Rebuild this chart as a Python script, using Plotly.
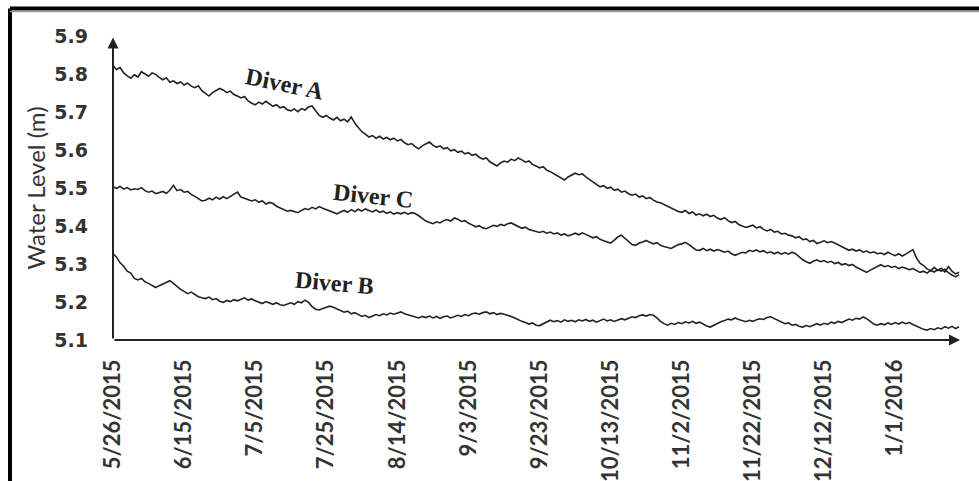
import pandas as pd
import plotly.graph_objects as go

# Daily water level readings (m) starting 5/26/2015
start_date = "2015-05-26"

diver_a = [
    5.822, 5.812, 5.817, 5.803, 5.795, 5.789, 5.798, 5.792, 5.806, 5.801,
    5.794, 5.803, 5.799, 5.791, 5.785, 5.790, 5.778, 5.782, 5.775, 5.779,
    5.771, 5.776, 5.768, 5.764, 5.769, 5.756, 5.748, 5.742, 5.751, 5.757,
    5.762, 5.758, 5.751, 5.755, 5.746, 5.742, 5.737, 5.741, 5.729, 5.723,
    5.719, 5.726, 5.721, 5.728, 5.722, 5.715, 5.719, 5.711, 5.714, 5.706,
    5.703, 5.708, 5.701, 5.709, 5.705, 5.713, 5.716, 5.702, 5.691, 5.686,
    5.691, 5.684, 5.679, 5.686, 5.677, 5.681, 5.674, 5.687, 5.671, 5.659,
    5.648, 5.642, 5.634, 5.638, 5.631, 5.636, 5.629, 5.633, 5.627, 5.631,
    5.624, 5.628, 5.619, 5.614, 5.617, 5.609, 5.603, 5.611, 5.616, 5.621,
    5.613, 5.607, 5.611, 5.603, 5.606, 5.598, 5.601, 5.594, 5.597, 5.590,
    5.593, 5.586, 5.589, 5.581, 5.576, 5.579, 5.569, 5.563, 5.558, 5.566,
    5.571, 5.568, 5.576, 5.572, 5.579, 5.574, 5.568, 5.571, 5.562, 5.558,
    5.553, 5.556, 5.547, 5.543, 5.538, 5.532, 5.526, 5.521, 5.529, 5.534,
    5.539, 5.535, 5.537, 5.529, 5.522, 5.516, 5.509, 5.503, 5.506, 5.499,
    5.502, 5.494, 5.497, 5.489, 5.492, 5.485, 5.481, 5.484, 5.476, 5.479,
    5.472, 5.475, 5.468, 5.463, 5.461, 5.456, 5.451, 5.446, 5.442, 5.438,
    5.436, 5.441, 5.433, 5.437, 5.429, 5.432, 5.427, 5.431, 5.425, 5.428,
    5.421, 5.417, 5.422, 5.414, 5.409, 5.412, 5.404, 5.401, 5.396, 5.399,
    5.402, 5.395, 5.398, 5.391, 5.387, 5.391, 5.384, 5.386, 5.379, 5.381,
    5.376, 5.374, 5.369, 5.372, 5.364, 5.366, 5.359, 5.362, 5.354, 5.357,
    5.361, 5.356, 5.359, 5.355, 5.351, 5.346, 5.341, 5.336, 5.339, 5.334,
    5.337, 5.331, 5.334, 5.329, 5.332, 5.327, 5.329, 5.325, 5.331, 5.326,
    5.322, 5.327, 5.321, 5.326, 5.331, 5.338, 5.316, 5.302, 5.296, 5.287,
    5.282, 5.291, 5.283, 5.289, 5.279, 5.293, 5.281, 5.274, 5.278,
]

diver_c = [
    5.503, 5.499, 5.504, 5.497, 5.501, 5.495, 5.498, 5.496, 5.501, 5.493,
    5.489, 5.492, 5.485, 5.487, 5.491, 5.486, 5.494, 5.507, 5.493, 5.496,
    5.489, 5.491, 5.483, 5.478, 5.472, 5.466, 5.468, 5.473, 5.469, 5.476,
    5.471, 5.477, 5.472, 5.478, 5.483, 5.489, 5.476, 5.472, 5.468, 5.466,
    5.469, 5.463, 5.466, 5.458, 5.462, 5.459, 5.452, 5.447, 5.443, 5.439,
    5.441, 5.437, 5.435, 5.441, 5.446, 5.443, 5.449, 5.445, 5.451, 5.447,
    5.443, 5.438, 5.434, 5.432, 5.437, 5.441, 5.436, 5.443, 5.438, 5.444,
    5.439, 5.445, 5.441, 5.437, 5.442, 5.436, 5.439, 5.433, 5.437, 5.431,
    5.435, 5.432, 5.436, 5.431, 5.435, 5.433, 5.427, 5.419, 5.413, 5.409,
    5.406, 5.411, 5.408, 5.414, 5.417, 5.413, 5.421, 5.418, 5.412, 5.414,
    5.407, 5.403, 5.398, 5.401, 5.395, 5.393, 5.397, 5.402, 5.399, 5.404,
    5.401, 5.406, 5.408, 5.403, 5.398, 5.394, 5.397, 5.391, 5.388, 5.385,
    5.383, 5.386, 5.381, 5.384, 5.379, 5.382, 5.376, 5.379, 5.374, 5.377,
    5.381, 5.377, 5.382, 5.378, 5.373, 5.369, 5.372, 5.365, 5.361, 5.358,
    5.355, 5.363, 5.371, 5.376, 5.368, 5.359, 5.351, 5.349, 5.355, 5.358,
    5.362, 5.357, 5.353, 5.356, 5.349, 5.346, 5.344, 5.341, 5.346, 5.351,
    5.353, 5.357, 5.351, 5.344, 5.337, 5.336, 5.341, 5.335, 5.339, 5.334,
    5.338, 5.335, 5.331, 5.334, 5.327, 5.323, 5.326, 5.331, 5.329, 5.336,
    5.333, 5.337, 5.332, 5.335, 5.329, 5.332, 5.327, 5.331, 5.326, 5.330,
    5.326, 5.331, 5.327, 5.319, 5.311, 5.306, 5.302, 5.307, 5.311, 5.306,
    5.309, 5.304, 5.307, 5.301, 5.304, 5.298, 5.301, 5.296, 5.299, 5.292,
    5.287, 5.283, 5.278, 5.284, 5.289, 5.294, 5.298, 5.293, 5.296, 5.291,
    5.294, 5.288, 5.292, 5.289, 5.285, 5.288, 5.282, 5.278, 5.281, 5.276,
    5.283, 5.279, 5.285, 5.281, 5.286, 5.277, 5.271, 5.266, 5.272,
]

diver_b = [
    5.327, 5.318, 5.303, 5.294, 5.281, 5.276, 5.262, 5.258, 5.262, 5.253,
    5.249, 5.244, 5.238, 5.243, 5.247, 5.251, 5.256, 5.249, 5.241, 5.233,
    5.228, 5.222, 5.226, 5.219, 5.214, 5.211, 5.209, 5.213, 5.206, 5.209,
    5.202, 5.199, 5.204, 5.201, 5.206, 5.203, 5.208, 5.211, 5.205, 5.208,
    5.203, 5.199, 5.196, 5.201, 5.197, 5.194, 5.198, 5.193, 5.191, 5.195,
    5.198, 5.194, 5.201, 5.198, 5.205, 5.199, 5.188, 5.181, 5.179, 5.183,
    5.186, 5.189, 5.186, 5.181, 5.177, 5.173, 5.176, 5.169, 5.172, 5.166,
    5.162, 5.165, 5.159, 5.163, 5.167, 5.164, 5.169, 5.166, 5.171, 5.168,
    5.172, 5.174, 5.169, 5.166, 5.163, 5.161, 5.158, 5.162, 5.159, 5.163,
    5.158, 5.162, 5.157, 5.161, 5.163, 5.158, 5.161, 5.165, 5.162, 5.167,
    5.164, 5.169, 5.171, 5.168, 5.172, 5.174, 5.169, 5.172, 5.167, 5.170,
    5.168, 5.166, 5.162, 5.158, 5.153, 5.149, 5.146, 5.142, 5.145, 5.139,
    5.138, 5.143, 5.147, 5.152, 5.148, 5.151, 5.147, 5.153, 5.149, 5.152,
    5.148, 5.153, 5.150, 5.154, 5.149, 5.152, 5.147, 5.151, 5.155, 5.150,
    5.153, 5.149, 5.152, 5.156, 5.153, 5.158, 5.161, 5.159, 5.164, 5.166,
    5.163, 5.167, 5.165, 5.158, 5.149, 5.143, 5.139, 5.144, 5.141, 5.146,
    5.143, 5.148, 5.145, 5.149, 5.144, 5.147, 5.141, 5.137, 5.134, 5.139,
    5.143, 5.148, 5.151, 5.155, 5.153, 5.158, 5.154, 5.151, 5.148, 5.152,
    5.149, 5.153, 5.156, 5.154, 5.159, 5.161, 5.156, 5.151, 5.146, 5.143,
    5.145, 5.139, 5.141, 5.136, 5.134, 5.138, 5.135, 5.140, 5.143, 5.139,
    5.144, 5.141, 5.147, 5.144, 5.149, 5.146, 5.151, 5.155, 5.152, 5.157,
    5.155, 5.161, 5.156, 5.148, 5.142, 5.139, 5.143, 5.140, 5.145, 5.141,
    5.146, 5.142, 5.147, 5.143, 5.146, 5.141, 5.136, 5.131, 5.128, 5.126,
    5.130, 5.127, 5.132, 5.129, 5.135, 5.131, 5.136, 5.130, 5.135,
]

x_tick_labels = [
    "5/26/2015", "6/15/2015", "7/5/2015", "7/25/2015", "8/14/2015", "9/3/2015",
    "9/23/2015", "10/13/2015", "11/2/2015", "11/22/2015", "12/12/2015", "1/1/2016",
]
y_tick_values = [5.1, 5.2, 5.3, 5.4, 5.5, 5.6, 5.7, 5.8, 5.9]

series_labels = [
    # text, date, level, angle
    ("Diver A", "2015-07-13 09:00", 5.774, 11.5),
    ("Diver C", "2015-08-07 02:00", 5.478, 6),
    ("Diver B", "2015-07-27 05:00", 5.250, 5),
]

dates = pd.date_range(start_date, periods=len(diver_a), freq="D")
x_tick_vals = pd.to_datetime(x_tick_labels, format="%m/%d/%Y")
x_end = pd.Timestamp(start_date) + pd.Timedelta(hours=238.25 * 24)

LINE = "#222222"
fig = go.Figure()
for vals in (diver_a, diver_c, diver_b):
    fig.add_trace(go.Scatter(
        x=dates, y=vals, mode="lines",
        line=dict(color=LINE, width=1.6), showlegend=False,
    ))

fig.update_layout(
    width=979, height=481,
    margin=dict(l=113, r=19, t=36, b=141),
    paper_bgcolor="white", plot_bgcolor="white",
    xaxis=dict(
        range=[pd.Timestamp(start_date), x_end], automargin=False,
        tickmode="array", tickvals=x_tick_vals, ticktext=x_tick_labels,
        tickangle=-90, ticks="", showgrid=False, zeroline=False, showline=False,
        tickfont=dict(family="Lato", size=22, color="#333333", weight="bold"),
        ticklabelstandoff=14,
    ),
    yaxis=dict(
        range=[5.1, 5.9], automargin=False,
        tickmode="array", tickvals=y_tick_values,
        ticktext=[f"{v:.1f}" for v in y_tick_values],
        ticks="", showgrid=False, zeroline=False, showline=False,
        tickfont=dict(family="DejaVu Sans", size=19, color="#333333", weight="bold"),
        ticklabelstandoff=24,
        title=dict(text="Water Level (m)", standoff=1,
                   font=dict(family="Lato", size=24, color="#333333")),
    ),
)

# axis lines drawn as arrows
arrow = dict(showarrow=True, arrowhead=2, arrowsize=1.1, arrowwidth=2,
             arrowcolor="#222222", text="", standoff=0,
             xref="x domain", yref="y domain", axref="x domain", ayref="y domain")
fig.add_annotation(x=1.0, y=0.0, ax=0.0, ay=0.0, **arrow)
fig.add_annotation(x=0.0, y=0.995, ax=0.0, ay=0.0, **arrow)

for text, xd, yv, ang in series_labels:
    fig.add_annotation(
        x=xd, y=yv, xref="x", yref="y", text=f"<b>{text}</b>", showarrow=False,
        textangle=ang,
        font=dict(family="Liberation Serif", size=24, color="#222222"),
    )

# outer frame (top and left edges)
fx = (10 - 113) / 847
fy = (340 - 8.5) / 304
fig.add_shape(type="line", xref="paper", yref="paper", x0=fx, x1=fx, y0=-0.6, y1=fy,
              line=dict(color="black", width=4))
fig.add_shape(type="line", xref="paper", yref="paper", x0=fx, x1=1.1, y0=fy, y1=fy,
              line=dict(color="black", width=4))
fig.add_shape(type="line", xref="paper", yref="paper", x0=fx, x1=1.1,
              y0=(340 - 11.5) / 304, y1=(340 - 11.5) / 304,
              line=dict(color="#9a9a9a", width=1.5))

fig.write_html("out.html")
